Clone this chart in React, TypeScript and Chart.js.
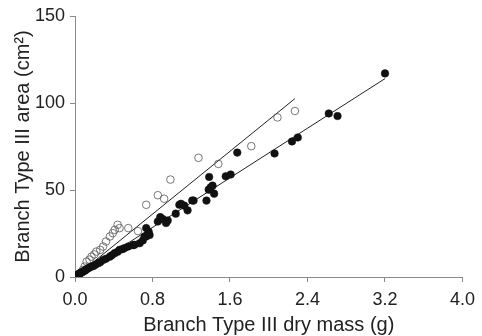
import React, { useEffect, useRef } from "react";
import { Chart, registerables } from "chart.js";

Chart.register(...registerables);

// Filled circles: [dry mass (g), area (cm²)]
const filledMass = [0.01,0.02,0.03,0.04,0.05,0.06,0.07,0.085,0.1,0.11,0.12,0.137,0.15,0.17,0.19,0.21,0.24,0.26,0.29,0.32,0.36,0.38,0.41,0.44,0.46,0.49,0.513,0.55,0.6,0.615,0.667,0.7,0.718,0.735,0.76,0.77,0.735,0.855,0.88,0.906,0.94,0.957,1.04,1.077,1.094,1.128,1.162,1.21,1.224,1.357,1.38,1.4,1.42,1.436,1.385,1.556,1.607,1.675,2.06,2.24,2.3,2.62,2.71,3.2];
const filledArea = [0.5,1,1.2,1.8,2,2.5,2.6,3.1,3.6,4,4.5,5,5.5,6,6.3,7,7.9,8.5,9.8,10.5,11.7,12.5,13.7,14.5,15.6,16,16.6,17.5,18.3,18.5,19.4,21,23.3,23.3,26.1,24.2,28.1,31.9,34.4,33.3,31,32.5,36.4,41.5,42.1,41,38.3,44,43.9,43.9,50.2,51.5,52.5,47.9,57.5,57.9,58.9,71.5,71,77.9,80.2,94,92.5,117];

// Open circles
const openMass = [0.04,0.06,0.08,0.1,0.12,0.15,0.17,0.2,0.22,0.26,0.29,0.32,0.36,0.39,0.41,0.44,0.46,0.55,0.65,0.735,0.855,0.92,0.985,1.275,1.48,1.82,2.09,2.27];
const openArea = [1.5,2.5,4,6,8.8,10,11.7,13,14.6,15.6,17.5,20.4,23.3,25.2,27.1,30,28.1,28.1,26.4,41.5,47,45,56,68.5,65,75.2,91.7,95.4];

// Regression lines (end points)
const filledFitMass = [0.02, 3.2];
const filledFitArea = [0.7, 114];
const openFitMass = [0.02, 2.27];
const openFitArea = [0.9, 102.5];

const xTicks = [0, 0.8, 1.6, 2.4, 3.2, 4.0];
const yTicks = [0, 50, 100, 150];

const pts = (xs: number[], ys: number[]) => xs.map((x, i) => ({ x, y: ys[i] }));

export default function App() {
  const ref = useRef<HTMLCanvasElement | null>(null);
  useEffect(() => {
    if (!ref.current) return;
    const font = "'Liberation Sans', Arial, sans-serif";
    const axisColor = "#8a8a8a";
    const chart = new Chart(ref.current, {
      type: "scatter",
      data: {
        datasets: [
          {
            data: pts(filledMass, filledArea),
            pointRadius: 3.8,
            pointBackgroundColor: "#111",
            pointBorderColor: "#111",
            pointBorderWidth: 0.5,
            order: 0,
          },
          {
            data: pts(openMass, openArea),
            pointRadius: 3.8,
            pointBackgroundColor: "rgba(255,255,255,0)",
            pointBorderColor: "#555",
            pointBorderWidth: 0.8,
            order: 0,
          },
          {
            data: pts(filledFitMass, filledFitArea),
            showLine: true,
            borderColor: "#222",
            borderWidth: 1,
            pointRadius: 0,
            order: 1,
          },
          {
            data: pts(openFitMass, openFitArea),
            showLine: true,
            borderColor: "#222",
            borderWidth: 1,
            pointRadius: 0,
            order: 1,
          },
        ],
      },
      options: {
        animation: false,
        responsive: false,
        maintainAspectRatio: false,
        layout: { padding: { left: 0, right: 17, top: 16, bottom: 0 } },
        plugins: { legend: { display: false }, tooltip: { enabled: false } },
        scales: {
          x: {
            type: "linear",
            min: 0,
            max: 4,
            afterBuildTicks: (s: any) => {
              s.ticks = xTicks.map((v) => ({ value: v }));
            },
            afterFit: (s: any) => {
              s.height = 59;
            },
            grid: { display: true, drawOnChartArea: false, drawTicks: true, tickLength: 5, color: axisColor },
            border: { display: true, color: axisColor, width: 1 },
            ticks: {
              color: "#222",
              font: { family: font, size: 18 },
              padding: 7,
              callback: (v: any) => Number(v).toFixed(1),
            },
            title: {
              display: true,
              text: "Branch Type III dry mass (g)",
              color: "#222",
              font: { family: font, size: 20, lineHeight: 1 },
              padding: { top: 0, bottom: 1 },
            },
          },
          y: {
            type: "linear",
            min: 0,
            max: 150,
            afterBuildTicks: (s: any) => {
              s.ticks = yTicks.map((v) => ({ value: v }));
            },
            afterFit: (s: any) => {
              s.width = 75;
            },
            grid: { display: true, drawOnChartArea: false, drawTicks: true, tickLength: 5, color: axisColor },
            border: { display: true, color: axisColor, width: 1 },
            ticks: {
              color: "#222",
              font: { family: font, size: 18 },
              padding: 5,
            },
            title: {
              display: true,
              text: "Branch Type III area (cm²)",
              color: "#222",
              font: { family: font, size: 20, lineHeight: 1.2 },
              padding: { top: 11, bottom: 0 },
            },
          },
        },
      },
    } as any);
    return () => chart.destroy();
  }, []);
  return (
    <div style={{ position: "fixed", left: 0, top: 0, width: 482, height: 336, background: "#fff" }}>
      <canvas ref={ref} width={482} height={336} style={{ display: "block", width: 482, height: 336 }} />
    </div>
  );
}
